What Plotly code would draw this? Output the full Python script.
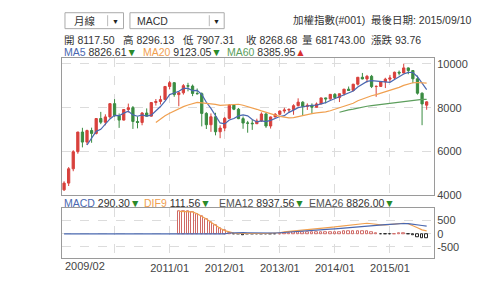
import plotly.graph_objects as go
import numpy as np
import pandas as pd

# ---------------- data (monthly, 2009/02 .. 2015/09) ----------------
months = [f"{y}/{m:02d}" for y in range(2009, 2016) for m in range(1, 13)]
months = months[1:1 + 80]  # 2009/02 .. 2015/09

opens = [4250, 4557, 5211, 5993, 6890, 6432, 6959, 6826, 7509, 7340, 7582, 8188,
         7640, 7436, 7920, 8004, 7374, 7329, 7761, 7616, 8238, 8287, 8372, 8973,
         9145, 8600, 8683, 9008, 8989, 8653, 8644, 7741, 7225, 7588, 6904, 7072,
         7517, 8121, 7933, 7502, 7302, 7296, 7270, 7397, 7715, 7166, 7580, 7700,
         7850, 7897, 7919, 8094, 8255, 8062, 8108, 8022, 8174, 8450, 8407, 8612,
         8463, 8640, 8849, 8791, 9076, 9393, 9316, 9436, 8967, 8975, 9187, 9307,
         9362, 9622, 9586, 9820, 9701, 9323, 8665, 8117.50]
highs = [4640, 5290, 6060, 6900, 7084, 7000, 7090, 7530, 7811, 7700, 8200,
         8395, 7740, 7940, 8190, 8080, 7600, 7800, 7970, 8260, 8400, 8550, 8990,
         9220, 9170, 8750, 9080, 9140, 9060, 8880, 8700, 7800, 7740, 7770, 7200,
         7580, 8170, 8170, 7990, 7600, 7400, 7450, 7500, 7790, 7770, 7600, 7760,
         7880, 8000, 7980, 8160, 8430, 8300, 8200, 8200, 8240, 8460, 8460, 8620,
         8670, 8650, 8860, 8970, 9090, 9400, 9590, 9500, 9500, 9020, 9200, 9370,
         9500, 9650, 9700, 10014, 9840, 9700, 9470, 8700, 8296.13]
lows = [4200, 4425, 5100, 5900, 6190, 6300, 6400, 6780, 7250, 7200, 7500,
        7590, 7080, 7420, 7780, 7032, 7060, 7200, 7600, 7600, 8100, 8150, 8360,
        8840, 8500, 8070, 8600, 8750, 8530, 8600, 7150, 7030, 6900, 6740, 6609,
        6930, 7500, 7890, 7480, 7040, 6860, 6990, 7260, 7350, 7080, 7050, 7560,
        7660, 7750, 7770, 7680, 8060, 7660, 7900, 7750, 8020, 8170, 8200, 8360,
        8400, 8260, 8560, 8780, 8750, 9020, 9300, 9150, 8900, 8500, 8950, 8900,
        9180, 9300, 9480, 9580, 9530, 9120, 8600, 7203, 7907.31]
closes = [4557, 5211, 5993, 6890, 6432, 6959, 6826, 7509, 7340, 7582, 8188,
          7640, 7436, 7920, 8004, 7374, 7329, 7761, 7616, 8238, 8287, 8372, 8973,
          9145, 8600, 8683, 9008, 8989, 8653, 8644, 7741, 7225, 7588, 6904, 7072,
          7517, 8121, 7933, 7502, 7302, 7296, 7270, 7397, 7715, 7166, 7580, 7700,
          7850, 7897, 7919, 8094, 8255, 8062, 8108, 8022, 8174, 8450, 8407, 8612,
          8463, 8640, 8849, 8791, 9076, 9393, 9316, 9436, 8967, 8975, 9187, 9307,
          9362, 9622, 9586, 9820, 9701, 9323, 8665, 8175, 8268.68]

# MACD panel series (None = not drawn)
macd_vals = [0] * 36 + [30, 40, 45, 45, 40, 35, 30, 30, 25, 25, 30, 40, 50, 60, 70, 80,
             95, 105, 115, 130, 145, 160, 175, 190, 205, 220, 240, 260, 280, 300,
             315, 330, 340, 345, 350, 360, 375, 385, 390, 385, 370, 345, 315, 290]
dif9_vals = [None] * 25 + [850, 850, 845, 830, 760, 670, 560, 440, 320, 210, 120, 60,
             25, 10, 5, 5, 5, 5, 10, 10, 15, 20, 40, 70, 90, 110, 125, 140, 155,
             170, 190, 210, 230, 245, 260, 280, 300, 330, 360, 385, 400, 400, 380,
             350, 340, 340, 355, 375, 395, 400, 380, 320, 230, 150, 112]

tick_idx = [11, 23, 35, 47, 59, 71]
tick_txt = ["", "2011/01", "2012/01", "2013/01", "2014/01", "2015/01"]
ytick_vals = [4000, 6000, 8000, 10000]
ytick_txt = ["4000", "6000", "8000", "10000"]

# ---------------- derived ----------------
n = len(closes)
idx = list(range(n))
cs = pd.Series(closes, dtype=float)
def ma(p):
    s = cs.rolling(p).mean()
    s[:p] = np.nan
    return s
ma5, ma20, ma60 = ma(5), ma(20), ma(60)

hist = []
for m, d in zip(macd_vals, dif9_vals):
    hist.append(None if d is None else d - m)

RED = "#d8403c"
GREEN = "#3a8c42"
C_MA5 = "#4a68b0"
C_MA20 = "#f0a050"
C_MA60 = "#5c9e5c"
FONT = "Liberation Sans, Arial, Noto Sans CJK TC, sans-serif"
TS = 10.5

fig = go.Figure()
fig.add_trace(go.Candlestick(
    x=idx, open=opens, high=highs, low=lows, close=closes,
    increasing=dict(line=dict(color=RED, width=1), fillcolor=RED),
    decreasing=dict(line=dict(color=GREEN, width=1), fillcolor=GREEN),
    hoverinfo="skip", xaxis="x", yaxis="y"))
for s, c in [(ma5, C_MA5), (ma20, C_MA20), (ma60, C_MA60)]:
    fig.add_trace(go.Scatter(x=idx, y=s, mode="lines", line=dict(color=c, width=1.2),
                             hoverinfo="skip", xaxis="x", yaxis="y"))

hcol = []
for h in hist:
    hcol.append("#222222" if (h is not None and h < 0) else "#d06a66")
fig.add_trace(go.Bar(x=idx, y=hist, width=0.55, marker=dict(color="rgba(255,255,255,1)",
                     line=dict(color=hcol, width=1)), hoverinfo="skip", xaxis="x2", yaxis="y2"))
fig.add_trace(go.Scatter(x=idx, y=dif9_vals, mode="lines", line=dict(color=C_MA20, width=1.2),
                         hoverinfo="skip", xaxis="x2", yaxis="y2"))
fig.add_trace(go.Scatter(x=idx, y=macd_vals, mode="lines", line=dict(color=C_MA5, width=1.2),
                         hoverinfo="skip", xaxis="x2", yaxis="y2"))

L, R, T, B = 62, 43, 58, 27
W, H = 480, 286
PW, PH = W - L - R, H - T - B
def px(X):
    return (X - L) / PW
def py(Y):
    return 1 - (Y - T) / PH

xr = [-0.45, 80.6]
axcommon = dict(showline=True, mirror=True, linecolor="#9a9a9a", linewidth=1,
                showgrid=True, gridcolor="#dcdcdc", griddash="dash", zeroline=False,
                ticks="", tickfont=dict(family=FONT, size=11, color="#444"))
fig.update_layout(
    width=W, height=H, margin=dict(l=L, r=R, t=T, b=B, pad=0),
    paper_bgcolor="white", plot_bgcolor="white", showlegend=False, bargap=0,
    xaxis=dict(domain=[0, 1], range=xr, tickvals=tick_idx, showticklabels=False,
               rangeslider=dict(visible=False), anchor="y", **axcommon),
    yaxis=dict(domain=[py(196), 1], range=[4000, 10273], side="right",
               tickvals=ytick_vals, ticktext=ytick_txt, anchor="x", **axcommon),
    xaxis2=dict(domain=[0, 1], range=xr, tickvals=tick_idx, ticktext=tick_txt,
                anchor="y2", **axcommon),
    yaxis2=dict(domain=[0, py(209)], range=[-920, 970], side="right",
                tickvals=[-500, 0, 500], ticktext=["-500", "0", "500"], anchor="x2", **axcommon),
)

anns = []
def text(X, Y, t, color="#333", size=TS, anchor="left"):
    anns.append(dict(xref="paper", yref="paper", x=px(X), y=py(Y), text=t, showarrow=False,
                     xanchor=anchor, yanchor="middle", font=dict(family=FONT, size=size, color=color)))

def sp(t, c):
    return f"<span style='color:{c}'>{t}</span>"

DN = sp("▼", "#2a8a2a")
UP = sp("▲", "#d83030")

# header dropdowns
shapes = []
def rect(x0, y0, x1, y1):
    shapes.append(dict(type="rect", xref="paper", yref="paper", x0=px(x0), x1=px(x1),
                       y0=py(y1), y1=py(y0), line=dict(color="#aaaaaa", width=1), fillcolor="white"))
def vline(x, y0, y1):
    shapes.append(dict(type="line", xref="paper", yref="paper", x0=px(x), x1=px(x),
                       y0=py(y1), y1=py(y0), line=dict(color="#bbbbbb", width=1)))
rect(65, 12.5, 124, 28.5)
vline(108, 15, 26)
rect(130.5, 12.5, 225.5, 28.5)
vline(210.5, 15, 26)
text(72, 20.5, "月線")
text(116, 21, "▼", "#222", 7, "center")
text(136, 20.5, "MACD")
text(218, 21, "▼", "#222", 7, "center")
text(293, 20, "加權指數(#001)")
text(371.5, 20, "最後日期: 2015/09/10")

# OHLC line
text(62, 40, "開 8117.50")
text(121.5, 40, "高 8296.13")
text(181.5, 40, "低 7907.31")
text(245, 40, "收 8268.68")
text(301.5, 40, "量 681743.00")
text(371.5, 40, "漲跌 93.76")

# MA legend
text(62, 52, sp("MA5", C_MA5) + " 8826.61" + DN)
text(141.5, 52, sp("MA20", C_MA20) + " 9123.05" + DN)
text(226.5, 52, sp("MA60", C_MA60) + " 8385.95" + UP)

# MACD legend
text(62.5, 203.5, sp("MACD", C_MA5) + " 290.30" + DN)
text(143, 203.5, sp("DIF9", C_MA20) + " 111.56" + DN)
text(218, 203.5, sp("EMA12", "#555") + " 8937.56" + DN)
text(309, 203.5, sp("EMA26", "#555") + " 8826.00" + DN)

# first x label (left aligned)
text(63, 267, "2009/02", "#444", 11)

fig.update_layout(annotations=anns, shapes=shapes)
fig.write_html("out.html")
